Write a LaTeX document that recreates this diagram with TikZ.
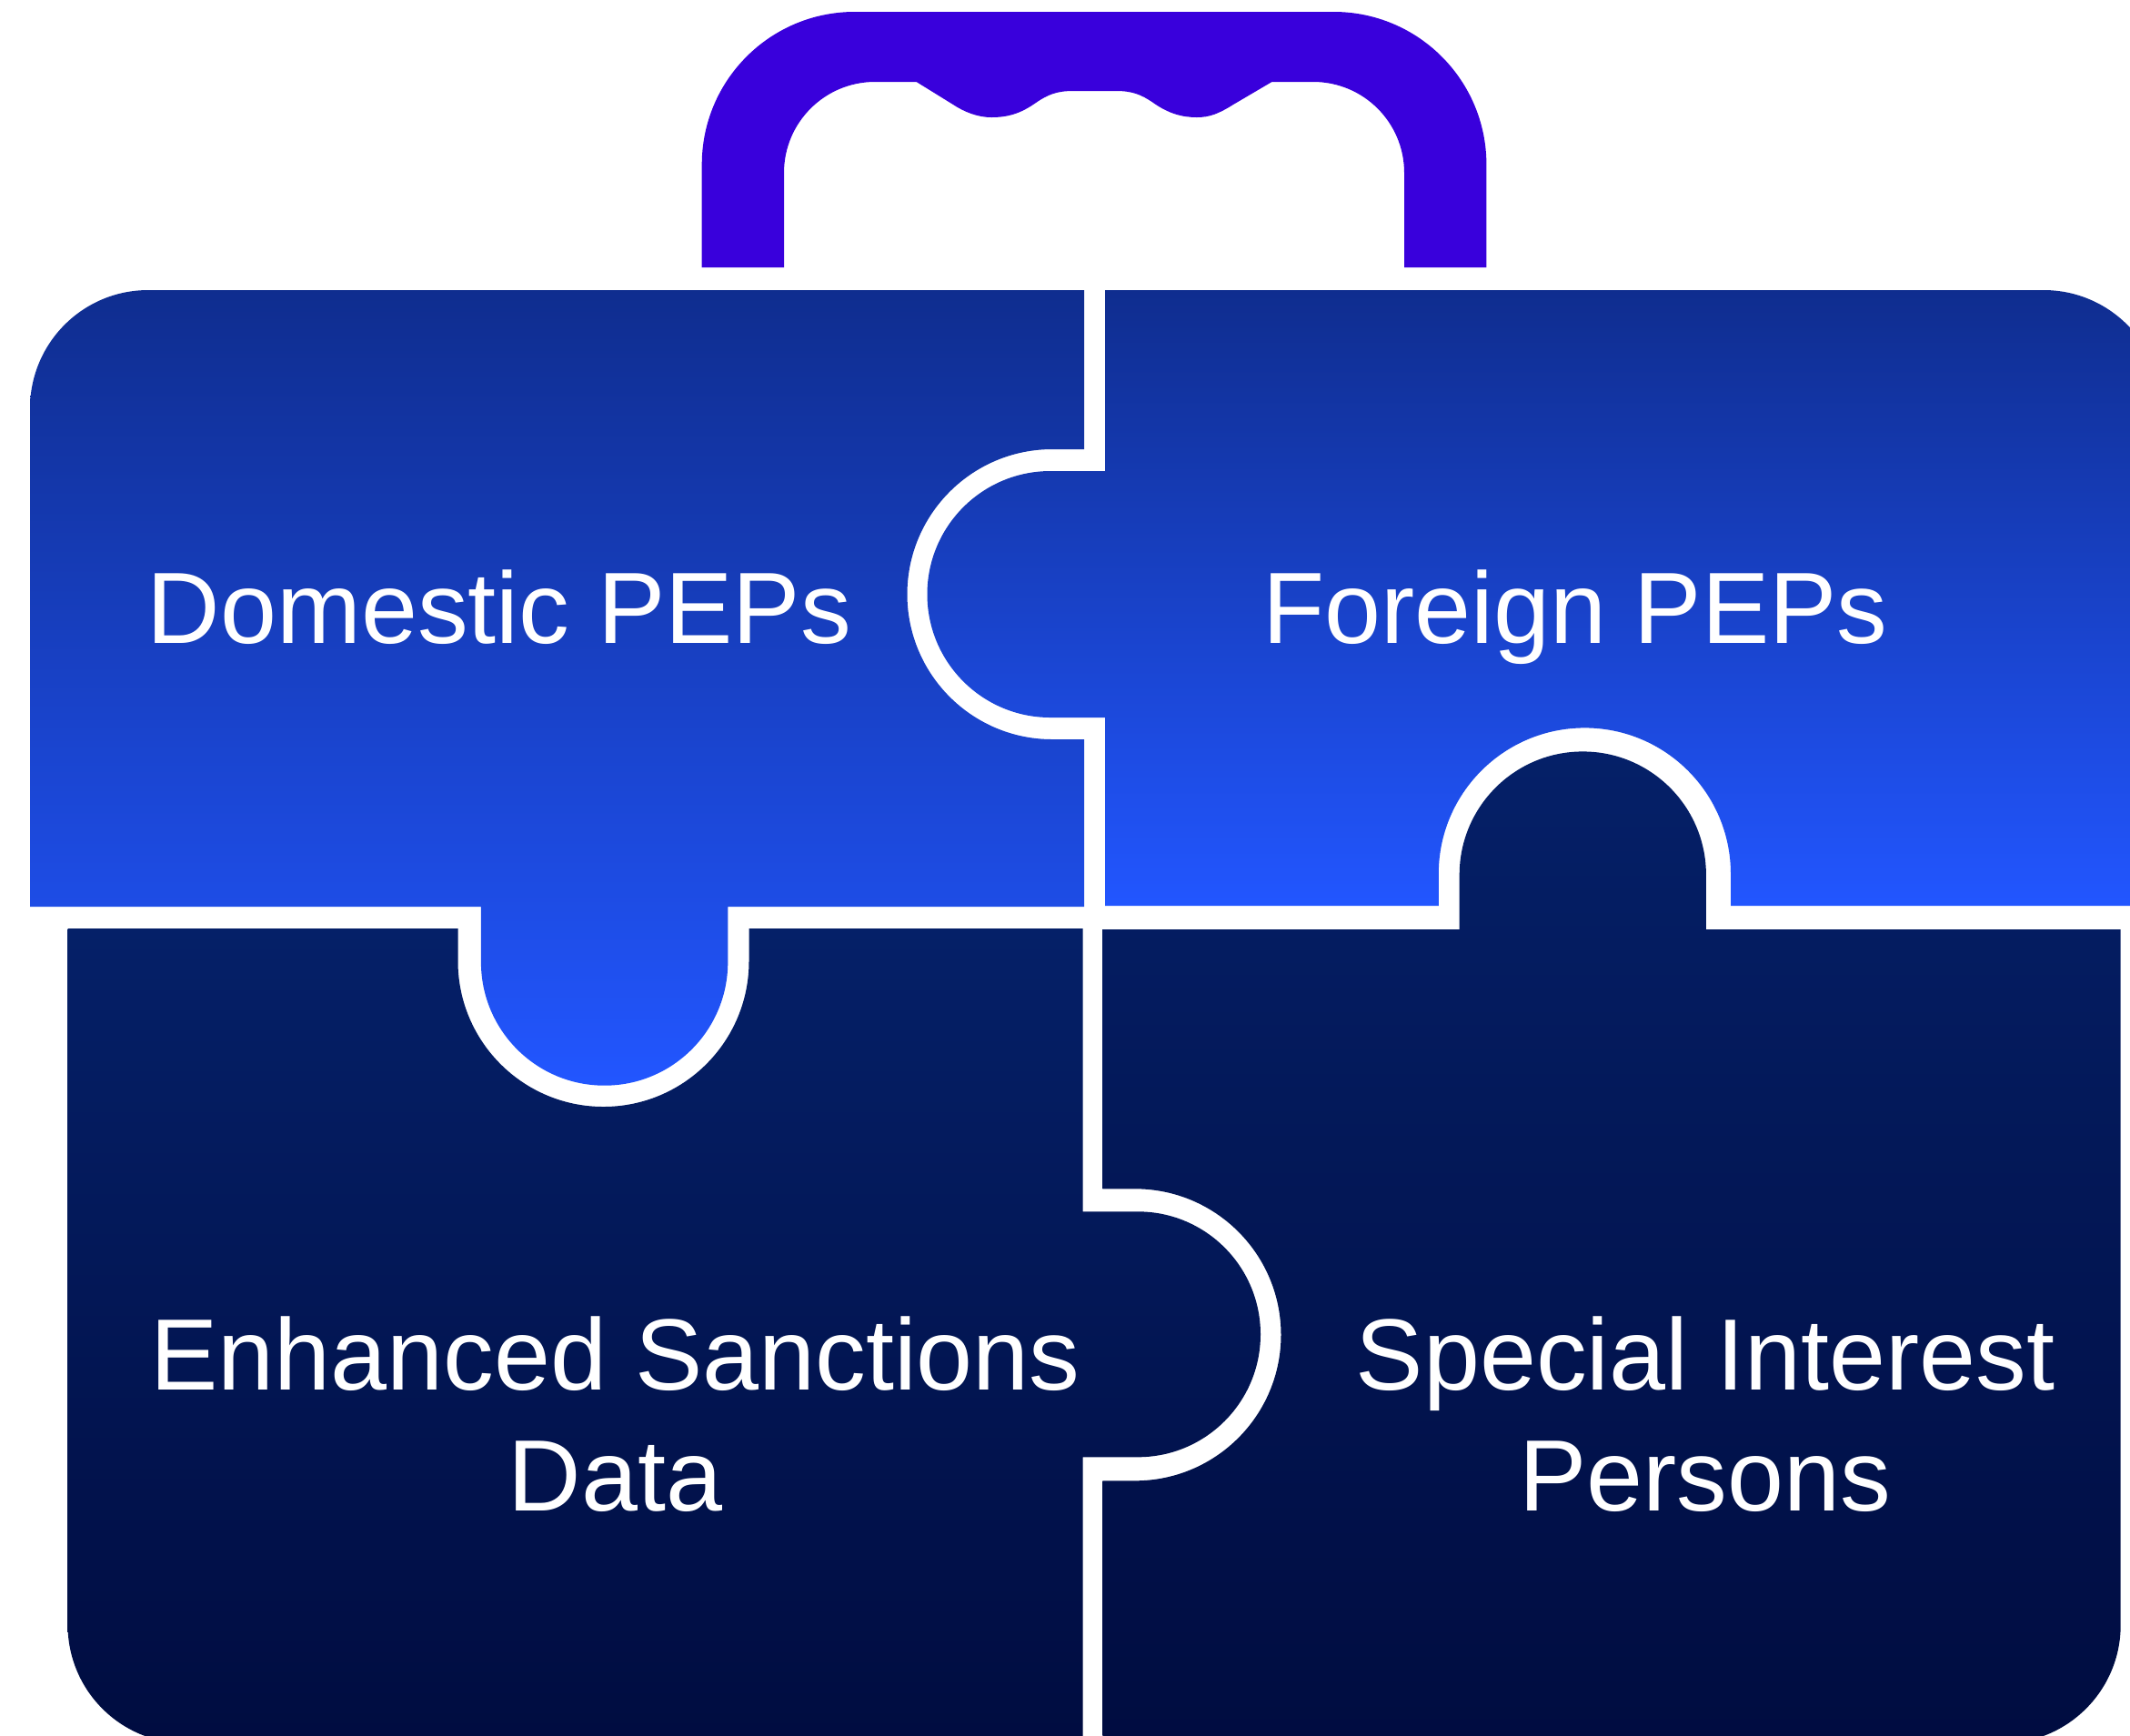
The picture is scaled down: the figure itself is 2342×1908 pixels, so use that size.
\documentclass[tikz,border=0pt]{standalone}
\usepackage{fontspec}
\setmainfont{Liberation Sans}
\definecolor{handlecolor}{HTML}{3900DC}
\definecolor{uppertop}{HTML}{0F2D8F}
\definecolor{upperbottom}{HTML}{2256FF}
\definecolor{lowertop}{HTML}{052068}
\definecolor{lowerbottom}{HTML}{000C40}
\begin{document}
\begin{tikzpicture}[x=0.01cm,y=-0.01cm,
  upperpiece/.style={top color=uppertop, bottom color=upperbottom, draw=none},
  lowerpiece/.style={top color=lowertop, bottom color=lowerbottom, draw=none},
  piecelabel/.style={text=white, align=center, inner sep=0pt, font=\fontsize{31.7}{37.8}\selectfont}
]

\clip (0,0) rectangle (2342,1908);

\fill[handlecolor] (771.7,294) -- (771.7,181) arc[start angle=180,end angle=270,radius=168]
  -- (1466.4,13) arc[start angle=270,end angle=360,radius=168]
  -- (1634.4,294) -- (1544,294) -- (1544,190) arc[start angle=0,end angle=-90,radius=100]
  -- (1398.5,90) -- (1356,115)
  .. controls (1340,125) and (1330,129) .. (1316,129)
  .. controls (1300,129) and (1285,125) .. (1268,113)
  .. controls (1255,104) and (1245,100) .. (1227,100)
  -- (1180,100)
  .. controls (1162,100) and (1152,104) .. (1139,113)
  .. controls (1122,125) and (1108,129) .. (1090,129)
  .. controls (1075,129) and (1060,123) .. (1048,115)
  -- (1007.6,90) -- (962,90) arc[start angle=270,end angle=180,radius=100]
  -- (862,294) -- cycle;

\path[upperpiece] (33,449) arc[start angle=180,end angle=270,radius=130]
  -- (1192,319) -- (1192,494) -- (1157,494) arc[start angle=270,end angle=90,radius=159.5]
  -- (1192,813) -- (1192,997) -- (800.3,997) -- (800.3,1058) arc[start angle=0,end angle=180,radius=135.7]
  -- (528.9,997) -- (33,997) -- cycle;

\path[upperpiece] (1215,319) -- (2247,319) arc[start angle=270,end angle=360,radius=130]
  -- (2377,996) -- (1903,996) -- (1903,961) arc[start angle=0,end angle=-180,radius=160.6]
  -- (1581.8,996) -- (1215,996) -- (1215,789) -- (1155,789) arc[start angle=90,end angle=270,radius=135.5]
  -- (1215,518) -- cycle;

\path[lowerpiece] (74.5,1021) -- (503.5,1021) -- (503.5,1057) arc[start angle=180,end angle=0,radius=160]
  -- (823.5,1021) -- (1190.7,1021) -- (1190.7,1332.3) -- (1251,1332.3) arc[start angle=-90,end angle=90,radius=135]
  -- (1190.7,1602.3) -- (1190.7,1917) -- (204.5,1917) arc[start angle=90,end angle=180,radius=130]
  -- cycle;

\path[lowerpiece] (1212.3,1022) -- (1604.7,1022) -- (1604.7,962) arc[start angle=180,end angle=360,radius=135.6]
  -- (1875.9,1022) -- (2331.7,1022) -- (2331.7,1787) arc[start angle=0,end angle=90,radius=130]
  -- (1212.3,1917) -- (1212.3,1628.3) -- (1248,1628.3) arc[start angle=90,end angle=-90,radius=160.5]
  -- (1212.3,1307.3) -- cycle;

\node[piecelabel,anchor=base] (domestic) at (549,707.5) {Domestic PEPs};
\node[piecelabel,anchor=base] (foreign) at (1732,707.5) {Foreign PEPs};
\node[piecelabel] (sanctions) at (676.6,1555.5) {Enhanced Sanctions\\Data};
\node[piecelabel] (interest) at (1875,1555.5) {Special Interest\\Persons};

\end{tikzpicture}
\end{document}
